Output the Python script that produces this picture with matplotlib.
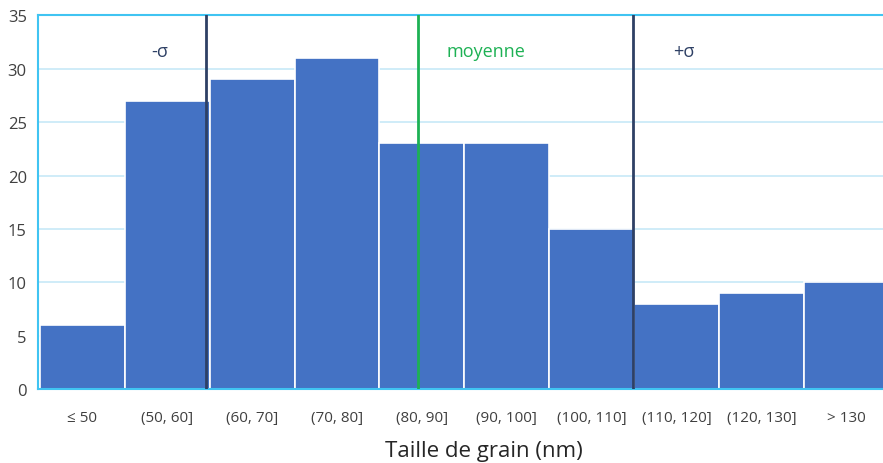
import matplotlib as mpl
import matplotlib.pyplot as plt

mpl.use("agg", force=True)

# bins and counts
categories = ['≤ 50', '(50, 60]', '(60, 70]', '(70, 80]', '(80, 90]',
              '(90, 100]', '(100, 110]', '(110, 120]', '(120, 130]', '> 130']
counts = [6, 27, 29, 31, 23, 23, 15, 8, 9, 10]

# reference lines, in bin-index units
minus_sigma = 1.46
mean_pos = 3.95
plus_sigma = 6.48

bar_color = '#4472C4'
navy = '#2E4065'
green = '#1DB154'
grid_color = '#CBEAF8'
frame_color = '#40C4F2'
text_color = '#404040'

plt.rcParams['font.family'] = ['Open Sans', 'DejaVu Sans']

fig = plt.figure(figsize=(8.83, 4.64), dpi=100)
ax = fig.add_axes([0.043, 0.159, 0.964, 0.806])

x = list(range(len(categories)))
ax.bar(x, counts, width=1.0, color=bar_color, edgecolor='white',
       linewidth=1.2, zorder=2)

ax.set_xlim(-0.52, len(categories) - 0.5)
ax.set_ylim(0, 35)
ax.set_yticks(range(0, 36, 5))
ax.yaxis.grid(True, color=grid_color, linewidth=1.3, zorder=0)
ax.set_axisbelow(True)

ax.set_xticks(x)
ax.set_xticklabels(categories)
ax.tick_params(axis='x', length=0, pad=15, labelsize=11, labelcolor=text_color)
ax.tick_params(axis='y', length=0, pad=8, labelsize=12, labelcolor=text_color)

for s in ['left', 'bottom', 'top']:
    ax.spines[s].set_color(frame_color)
    ax.spines[s].set_linewidth(1.5)
ax.spines['right'].set_visible(False)

ax.axvline(minus_sigma, color=navy, linewidth=2, zorder=3)
ax.axvline(mean_pos, color=green, linewidth=2, zorder=3)
ax.axvline(plus_sigma, color=navy, linewidth=2, zorder=3)

ax.text(0.91, 31.7, '-σ', color=navy, fontsize=13, ha='center', va='center')
ax.text(4.75, 31.7, 'moyenne', color=green, fontsize=13, ha='center', va='center')
ax.text(7.08, 31.7, '+σ', color=navy, fontsize=13, ha='center', va='center')

fig.text(0.548, 0.027, 'Taille de grain (nm)', color='#262626', fontsize=16,
         ha='center', va='center')

fig.savefig('out.png', dpi=100)
plt.close(fig)
